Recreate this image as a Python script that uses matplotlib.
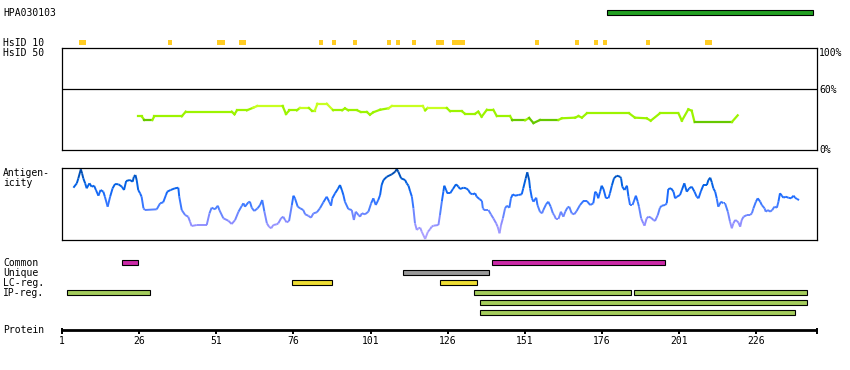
import matplotlib
matplotlib.use("Agg")
import matplotlib.pyplot as plt
import numpy as np
from matplotlib.collections import LineCollection
from matplotlib.colors import LinearSegmentedColormap, Normalize
from matplotlib.patches import Rectangle

W, H = 850, 370          # figure size in pixels
PX = 3.085               # pixels per residue
X0 = 62                  # pixel column of residue 1
SEQ_END = 245.7          # right end of the protein ruler (residues)

# ---- data ----
antibody_name = "HPA030103"
antibody_span = (177.6, 244.5)

hsid10_start = [6.5, 35.4, 51.2, 58.4, 84.3, 88.5, 95.3, 106.4, 109.3, 114.5,
                122.2, 127.4, 154.3, 167.3, 173.5, 176.4, 190.3, 209.4]
hsid10_end = [8.8, 36.7, 53.8, 60.6, 85.6, 89.8, 96.6, 107.7, 110.6, 115.8,
              124.8, 131.6, 155.6, 168.6, 174.7, 177.7, 191.6, 211.7]

# sequence identity (%) along the protein
ident_pos = [25.7, 26.8, 27.7, 30.3, 30.9, 39.8, 41.1, 56.0, 56.9, 57.7, 60.9, 63.0,
             64.3, 72.5, 73.6, 74.7, 77.1, 78.1, 81.0, 82.0, 82.9, 83.8, 86.8, 88.9,
             91.8, 92.7, 93.8, 96.7, 97.8, 99.8, 100.8, 101.9, 104.1, 106.8, 107.9,
             117.9, 118.7, 119.5, 125.7, 126.8, 130.6, 131.6, 134.9, 135.9, 137.0,
             138.7, 140.8, 141.9, 146.2, 147.0, 151.1, 152.4, 153.8, 155.9, 161.9,
             163.0, 167.3, 168.4, 169.5, 171.1, 184.8, 186.7, 190.5, 191.8, 194.8,
             200.8, 201.9, 204.0, 205.1, 206.0, 218.1, 220.0]
ident_pct = [33.1, 33.1, 29.5, 29.5, 33.1, 33.1, 37.7, 37.7, 35.1, 39.0, 39.0, 41.6,
             43.3, 43.3, 35.4, 39.0, 39.0, 41.3, 41.3, 38.6, 38.6, 45.5, 45.5, 39.0,
             39.0, 41.0, 39.0, 39.0, 37.4, 37.4, 34.7, 37.1, 39.6, 41.0, 43.3,
             43.3, 39.0, 41.3, 41.3, 38.1, 38.1, 35.7, 35.7, 37.7, 32.7,
             39.6, 39.6, 33.4, 33.4, 29.2, 29.2, 31.5, 26.5, 29.5, 29.5,
             31.2, 31.8, 33.4, 31.8, 36.1, 36.1, 31.8, 31.2, 28.8, 36.1,
             36.1, 28.8, 40.0, 38.6, 27.5, 27.5, 34.1]

# antigenicity profile (arbitrary units, 0 = bottom of box)
antigen_pos = [
    4.7, 5.8, 6.3, 7.1, 7.5, 7.9, 8.5, 9.0, 9.9, 10.6, 11.4, 12.0, 12.8, 13.5, 14.4,
    14.9, 15.8, 16.6, 17.4, 18.2, 19.3, 20.4, 21.1, 21.8, 23.0, 23.9, 24.3, 24.8,
    25.2, 25.7, 26.3, 26.8, 27.4, 27.9, 31.7, 32.8, 33.8, 34.7, 35.1, 36.2, 37.6,
    38.7, 39.0, 39.8, 40.9, 41.9, 42.5, 43.0, 44.7, 47.9, 48.8, 49.5, 50.6, 51.5,
    52.0, 53.3, 54.9, 56.0, 57.1, 58.2, 59.3, 59.8, 60.3, 61.4, 61.9,
    62.5, 63.3, 64.4, 65.2, 65.9, 66.6, 67.4, 68.1, 68.8, 69.5, 70.6, 71.1, 72.0,
    72.7, 73.3, 73.8, 74.6, 75.5, 76.0, 76.5, 77.4, 78.2, 79.2, 79.8, 80.8, 81.7,
    82.5, 83.6, 84.6, 85.7, 86.8, 87.6, 88.2, 88.6, 89.5, 90.4, 91.1, 91.7, 92.2,
    92.7, 93.8, 94.9, 95.6, 96.2, 97.1, 97.6, 98.2, 99.2, 100.3, 101.2, 101.9,
    102.7, 103.5, 104.1, 104.6, 105.2, 106.3, 107.9, 109.0, 109.5, 110.0, 110.9,
    112.2, 112.7, 113.3, 113.8, 114.4, 114.9, 115.4, 116.0, 116.5, 117.1, 117.6,
    118.7, 119.6,
    120.3, 120.8, 121.4, 123.0, 123.5, 124.1, 124.6, 124.9, 125.5, 125.9, 126.8,
    127.7, 128.7, 129.5, 130.0, 131.1, 132.0, 132.7, 133.3, 134.1, 134.9, 135.4,
    136.3, 137.1, 137.4, 137.9, 139.2, 140.0, 140.8, 141.7, 142.2, 142.8, 143.3,
    143.9, 144.6, 145.2, 146.0, 146.5, 147.1, 147.8, 148.9, 150.0, 150.5, 151.3,
    151.8, 152.4, 152.7, 153.3, 153.8, 154.7, 155.1, 155.9, 156.6, 157.0, 157.9,
    158.6, 159.4, 160.1, 160.5, 161.1, 161.9, 162.7, 163.2, 163.5, 164.1, 164.8,
    165.4, 166.2, 167.0, 167.8, 168.9, 170.0, 171.1, 172.2, 173.2, 173.8, 174.3,
    174.8, 175.4, 175.9, 176.5, 177.3, 178.1, 178.6, 179.2, 179.9, 180.8, 181.9,
    182.2, 182.6, 183.3, 184.1, 184.6, 185.1, 185.9, 186.5, 187.0, 187.6, 188.0,
    188.7, 189.4, 189.8, 190.5, 191.1, 191.9, 192.7, 193.2, 194.1, 194.8, 195.4,
    196.5, 197.0, 197.5, 198.4, 199.2, 199.7, 200.3, 201.3, 201.9, 202.7, 203.5,
    204.3, 205.1, 206.0, 206.7, 207.3, 208.1, 208.9, 210.0, 210.5, 211.1, 211.6,
    212.1, 212.7, 213.2, 213.7, 214.6, 215.4, 215.9, 216.8, 217.5, 218.1, 218.6,
    219.2, 219.7, 220.2, 220.8, 221.3, 221.9, 223.0, 224.0, 224.6, 225.1, 225.9,
    226.5, 227.3, 227.8, 228.7, 229.1, 229.8, 230.5, 231.2, 231.9, 232.7, 233.2,
    233.7, 234.3, 234.8, 235.6, 236.4, 237.3, 238.1, 238.6, 239.2, 239.9]
antigen_val = [
    52.0, 56.4, 61.4, 70.4, 66.4, 61.4, 56.4, 51.4, 56.4, 53.0, 54.0, 49.7, 44.0, 49.7, 48.0,
    43.0, 33.0, 43.0, 51.4, 55.7, 55.4, 53.0, 49.7, 58.7, 59.7, 58.0, 63.0, 64.7,
    59.7, 49.7, 46.4, 43.0, 31.4, 29.7, 30.4, 36.4, 37.4, 44.7, 48.0, 49.7, 51.4,
    52.0, 43.0, 29.7, 24.7, 23.0, 18.0, 13.7, 14.7, 14.7, 26.4, 32.0, 30.4, 34.0,
    29.7, 21.4, 19.0, 15.7, 19.7, 28.0, 34.0, 36.4, 33.0, 37.4, 38.0,
    32.0, 28.7, 31.4, 34.7, 39.7, 28.0, 16.4, 13.0, 11.4, 14.7, 15.4, 16.4, 21.4,
    23.0, 19.7, 17.4, 18.7, 34.7, 44.0, 41.4, 33.0, 31.4, 29.7, 25.4, 24.0, 22.0,
    26.4, 27.4, 31.4, 37.4, 43.0, 38.0, 34.0, 41.4, 46.4, 50.7, 54.7, 49.7, 44.7,
    38.0, 30.7, 29.7, 19.7, 28.0, 24.7, 23.0, 26.4, 25.4, 28.0, 36.4, 41.4,
    34.7, 39.7, 44.7, 54.7, 59.7, 63.0, 65.4, 68.0, 70.7, 68.0, 61.4,
    59.7, 56.4, 54.0, 48.7, 43.0, 31.4, 16.4, 9.7, 11.4, 12.0, 8.0,
    0.7, 8.0,
    10.5, 13.0, 14.0, 14.7, 24.7, 38.0, 48.0, 54.0, 49.7, 46.4, 46.4,
    50.7, 55.4, 53.0, 50.7, 52.0, 51.4, 49.7, 46.4, 45.4, 46.4, 43.0,
    40.7, 38.7, 31.4, 29.7, 29.7, 25.4, 21.4, 16.4, 13.0, 6.4, 14.7,
    21.4, 31.4, 34.0, 32.0, 41.4, 45.4, 44.0, 44.7, 45.4, 51.4, 61.4,
    67.4, 59.7, 51.4, 41.4, 38.0, 42.0, 34.7, 28.0, 26.4, 29.7, 35.4,
    38.0, 33.0, 26.4, 24.7, 20.7, 20.7, 28.0, 24.7, 23.0, 28.0, 32.0,
    33.0, 26.4, 25.4, 28.7, 34.7, 38.7, 38.7, 34.7, 36.4, 48.0, 46.4,
    41.4, 48.0, 54.0, 50.7, 41.4, 41.4, 46.4, 54.0, 61.4, 64.0, 63.0,
    61.4, 53.0, 49.7, 54.0, 43.0, 34.7, 34.7, 39.7, 44.0, 38.0, 33.0,
    21.4, 16.4, 14.0, 21.4, 23.0, 22.0, 19.7, 18.7, 24.7, 32.0, 34.0,
    34.7, 36.4, 50.7, 51.4, 48.0, 41.4, 43.0, 44.7, 49.7, 56.4, 48.0,
    51.4, 53.0, 48.0, 43.0, 41.4, 48.7, 54.7, 54.7, 59.7, 62.0, 57.4,
    51.4, 48.0, 41.4, 33.0, 38.0, 36.4, 36.4, 28.0, 18.0, 11.4, 16.4,
    19.7, 18.7, 17.4, 13.0, 19.7, 23.0, 24.7, 24.7, 26.4, 31.4, 38.0,
    41.4, 38.0, 34.7, 31.4, 28.0, 29.7, 28.0, 29.7, 33.0, 32.0, 38.0,
    46.4, 44.0, 42.0, 43.0, 42.0, 41.4, 44.0, 42.0, 40.7, 39.7]
ANTIGEN_MAX = 71.4

common_spans = [(20.5, 25.5), (140.5, 196.5)]
unique_spans = [(111.5, 139.5)]
lcreg_spans = [(75.5, 88.5), (123.5, 135.5)]
ipreg_rows = [[(2.5, 29.5), (134.5, 185.5), (186.5, 242.5)],
              [(136.5, 242.5)],
              [(136.5, 238.5)]]

ruler_ticks = [1, 26, 51, 76, 101, 126, 151, 176, 201, 226]

# ---- layout ----
plt.rcParams['font.family'] = ['DejaVu Sans Mono']
FS = 7

fig = plt.figure(figsize=(W / 100, H / 100), dpi=100)
fig.patch.set_facecolor('white')
ax = fig.add_axes([0, 0, 1, 1])
ax.set_xlim(1 - X0 / PX, 1 + (W - X0) / PX)
ax.set_ylim(H, 0)
ax.axis('off')


def ptext(x, y, s, **kw):
    fig.text(x / W, 1 - y / H, s, fontsize=FS, color='black', **kw)


def px_axes(x0, y0, x1, y1):
    a = fig.add_axes([x0 / W, 1 - y1 / H, (x1 - x0) / W, (y1 - y0) / H])
    a.set_xticks([])
    a.set_yticks([])
    for s in a.spines.values():
        s.set_linewidth(0.9)
        s.set_color('black')
    a.set_xlim(1, SEQ_END)
    a.patch.set_alpha(0)
    return a


def bars(spans, y, color, h=4.7):
    for a, b in spans:
        ax.add_patch(Rectangle((a, y), b - a, h, fc=color, ec='black', lw=0.8))


# antibody bar
bars([antibody_span], 10, '#22a022')
ptext(3, 12.5, antibody_name, va='center')

# HsID 10 marks
for a, b in zip(hsid10_start, hsid10_end):
    ax.add_patch(Rectangle((a, 40), b - a, 5, fc='#ffcc22', ec='none'))
ptext(3, 42.5, 'HsID 10', va='center')
ptext(3, 52.5, 'HsID 50', va='center')

# identity box
aid = px_axes(62, 48.3, 817, 150)
aid.set_ylim(0, 100)
aid.axhline(60, color='black', lw=0.9)
ip = np.array(ident_pos)
iv = np.array(ident_pct)
segs = np.stack([np.column_stack([ip[:-1], iv[:-1]]),
                 np.column_stack([ip[1:], iv[1:]])], axis=1)
mid = (iv[:-1] + iv[1:]) / 2
cols = ['#66c800' if m < 30 else ('#c8ff20' if m >= 41 else '#9cf400') for m in mid]
aid.add_collection(LineCollection(segs, colors=cols, linewidths=1.6, capstyle='projecting'))
ptext(819, 48.5, '100%', va='top')
ptext(819, 90.3, '60%', va='center')
ptext(819, 150, '0%', va='center')

# antigenicity box
aag = px_axes(62, 168.3, 817, 239.7)
aag.set_ylim(0, ANTIGEN_MAX)
gp = np.array(antigen_pos)
gv = np.array(antigen_val)
segs = np.stack([np.column_stack([gp[:-1], gv[:-1]]),
                 np.column_stack([gp[1:], gv[1:]])], axis=1)
cmap = LinearSegmentedColormap.from_list(
    'ag', [(0, '#b4a8ff'), (0.25, '#8c8cff'), (0.45, '#4c80ff'),
           (0.6, '#1e6cff'), (0.8, '#0060e0'), (1.0, '#0046a0')])
lc = LineCollection(segs, cmap=cmap, norm=Normalize(0, ANTIGEN_MAX), linewidths=1.4)
lc.set_array((gv[:-1] + gv[1:]) / 2)
aag.add_collection(lc)
ptext(3, 173, 'Antigen-', va='center')
ptext(3, 183, 'icity', va='center')

# feature tracks
bars(common_spans, 260, '#cc2aa8')
bars(unique_spans, 270, '#999999')
bars(lcreg_spans, 280, '#eedd33')
for i, row in enumerate(ipreg_rows):
    bars(row, 290 + 10 * i, '#a4cc5c')
ptext(3, 262.5, 'Common', va='center')
ptext(3, 272.5, 'Unique', va='center')
ptext(3, 282.5, 'LC-reg.', va='center')
ptext(3, 292.5, 'IP-reg.', va='center')

# protein ruler
ax.plot([1, SEQ_END], [329.5, 329.5], color='black', lw=2.0, solid_capstyle='butt')
ax.vlines(ruler_ticks, 329.5, 334, color='black', lw=1.4)
ax.vlines([1, SEQ_END], 327.5, 334, color='black', lw=1.4)
for t in ruler_ticks:
    ax.text(t, 341.5, str(t), ha='center', va='center', fontsize=FS)
ptext(3, 330, 'Protein', va='center')

fig.savefig('out.png', dpi=100)
